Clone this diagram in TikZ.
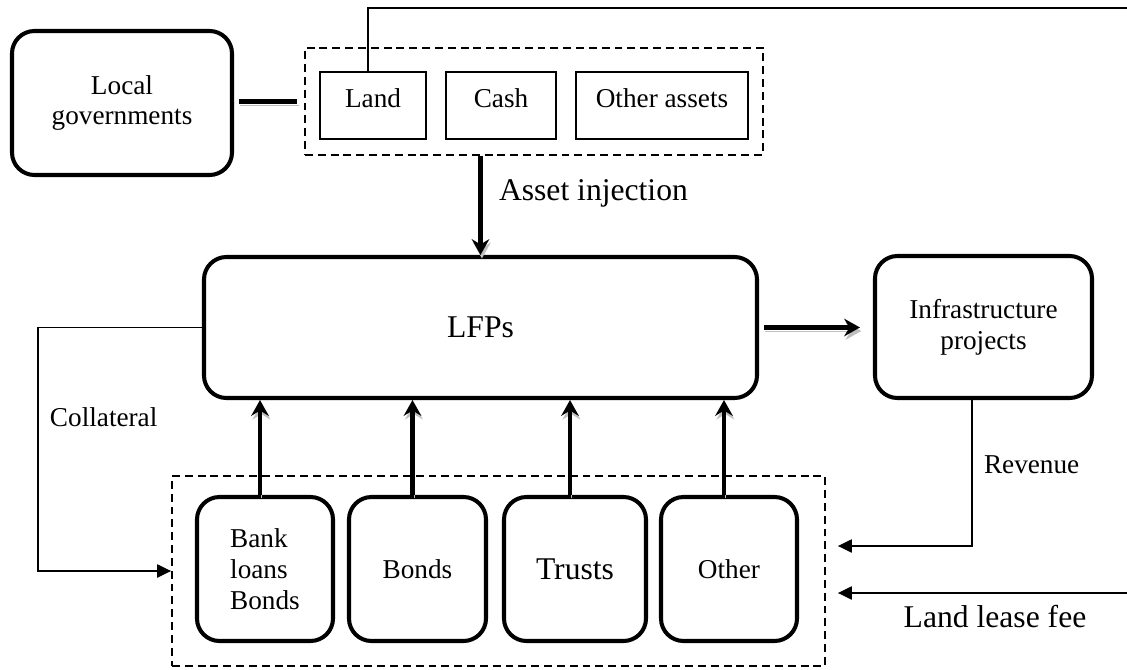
\documentclass[tikz,border=0pt]{standalone}
\usepackage{fontspec}
\setmainfont{Liberation Serif}
\usetikzlibrary{arrows.meta}

\begin{document}
\begin{tikzpicture}[
  font=\fontsize{15.5}{17.6}\selectfont,
  bigtext/.style={font=\fontsize{18}{20.5}\selectfont},
  roundbox/.style={draw, line width=2.3pt, rounded corners=0.45cm, inner sep=0pt, align=center},
  assetbox/.style={draw, line width=0.85pt, inner sep=0pt, minimum height=1.34cm, text depth=0.28cm},
  groupbox/.style={draw, dash pattern=on 4.5pt off 2.8pt, line width=1pt, inner sep=0pt},
  fatline/.style={line width=2.4pt, preaction={draw=gray!50, transform canvas={shift={(0.8pt,-2pt)}}}},
  fatarrow/.style={fatline, -{Stealth[length=9pt,width=10pt,inset=3pt]}},
  thinarrow/.style={line width=1pt, -{Triangle[length=8pt,width=7.5pt]}}
]

\useasboundingbox (0,0) rectangle (22.54,13.38);
\clip (0,0) rectangle (22.54,13.38);

% top row
\node[roundbox, minimum width=4.4cm, minimum height=2.88cm] (localgov) at (2.44,11.32) {Local\\governments};
\node[groupbox, minimum width=9.16cm, minimum height=2.14cm] (assets) at (10.68,11.35) {};
\node[assetbox, minimum width=2.12cm] (land) at (7.46,11.27) {Land};
\node[assetbox, minimum width=2.2cm] (cash) at (10.02,11.27) {Cash};
\node[assetbox, minimum width=3.44cm] (otherassets) at (13.24,11.27) {Other assets};

% middle row
\node[roundbox, bigtext, minimum width=11.06cm, minimum height=2.82cm] (lfp) at (9.61,6.83) {LFPs};
\node[roundbox, minimum width=4.34cm, minimum height=2.84cm] (infra) at (19.67,6.84) {Infrastructure\\projects};

% funding sources
\node[groupbox, minimum width=13.06cm, minimum height=3.8cm] (funds) at (9.97,1.96) {};
\node[roundbox, align=left, minimum width=2.72cm, minimum height=2.88cm] (bank) at (5.30,2.00) {Bank\\loans\\Bonds};
\node[roundbox, minimum width=2.74cm, minimum height=2.88cm] (bonds) at (8.35,2.00) {Bonds};
\node[roundbox, bigtext, minimum width=2.84cm, minimum height=2.88cm] (trusts) at (11.50,2.00) {Trusts};
\node[roundbox, minimum width=2.72cm, minimum height=2.88cm] (otherfund) at (14.58,2.00) {Other};

\coordinate (revenuein) at ([shift={(0.24,0.5)}]funds.east);
\coordinate (leasein) at ([shift={(0.24,-0.44)}]funds.east);

% connectors
\draw[fatline, shorten <=0.1cm, shorten >=0.14cm] (localgov.east |- assets.west) -- (assets.west);
\draw[fatarrow] (lfp.north |- assets.south) -- node[right=6pt, pos=0.38, bigtext] (injection) {Asset injection} (lfp.north);
\draw[fatarrow, shorten <=0.1cm, shorten >=0.26cm] (lfp.east) -- (lfp.east -| infra.west);

\foreach \f in {bank,bonds,trusts,otherfund}
  \draw[fatarrow] ([xshift=-0.1cm]\f.north) -- ([xshift=-0.1cm]\f.north |- lfp.south);

\draw[thinarrow] (lfp.west) -- ++(-3.28,0) coordinate (collbend)
  -- node[right=3pt, pos=0.37] (colltext) {Collateral} (collbend |- funds.west) -- (funds.west);

\draw[thinarrow] ([xshift=-0.23cm]infra.south) |- node[right=3pt, pos=0.22] (revtext) {Revenue} (revenuein);

\draw[thinarrow] ([xshift=-0.1cm]land.north) |- (23,13.22) |- (leasein); % land lease fee
\node[bigtext] (leasetext) at (19.9,1.04) {Land lease fee};

\end{tikzpicture}
\end{document}
